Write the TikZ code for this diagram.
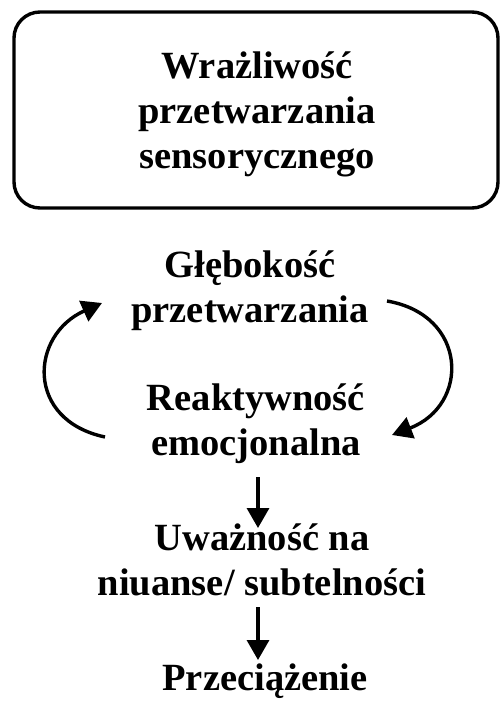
\documentclass[tikz,border=0pt]{standalone}
\usepackage{fontspec}
\setmainfont{Liberation Serif}
\usetikzlibrary{arrows.meta}
\begin{document}
\begin{tikzpicture}[x=1pt,y=-1pt,
  lbl/.style={font=\bfseries\fontsize{38.5}{45}\selectfont, align=center, inner sep=0pt, anchor=base},
  arr/.style={line width=3.4pt, -{Triangle[length=20pt,width=22pt]}},
  box/.style={line width=3.4pt, rounded corners=26pt}]
  \useasboundingbox (0,0) rectangle (499,701);

  % framed heading (anchor=base sits on the last line)
  \draw[box] (14,12) rectangle (498,208);
  \node[lbl] (wraz) at (257,168) {Wrażliwość\\przetwarzania\\sensorycznego};

  % feedback loop
  \node[lbl] (gleb) at (250,322) {Głębokość\\przetwarzania};
  \node[lbl] (reak) at (256,455) {Reaktywność\\emocjonalna};

  \coordinate (ls) at (105,437);
  \coordinate (le) at (102,303);
  \coordinate (rs) at (387,301);
  \coordinate (re) at (392,435);
  \draw[arr] (ls) .. controls (25,420) and (30,335) .. (le);
  \draw[arr] (rs) .. controls (468,315) and (470,405) .. (re);

  % chain below
  \node[lbl] (uwaz) at (262,595) {Uważność na\\niuanse/ subtelności};
  \node[lbl] (prze) at (265,690) {Przeciążenie};

  \coordinate (a1) at (258,477);
  \coordinate (b1) at (258,528);
  \coordinate (a2) at (258,607);
  \coordinate (b2) at (258,660);
  \draw[arr] (a1) -- (b1);
  \draw[arr] (a2) -- (b2);
\end{tikzpicture}
\end{document}
